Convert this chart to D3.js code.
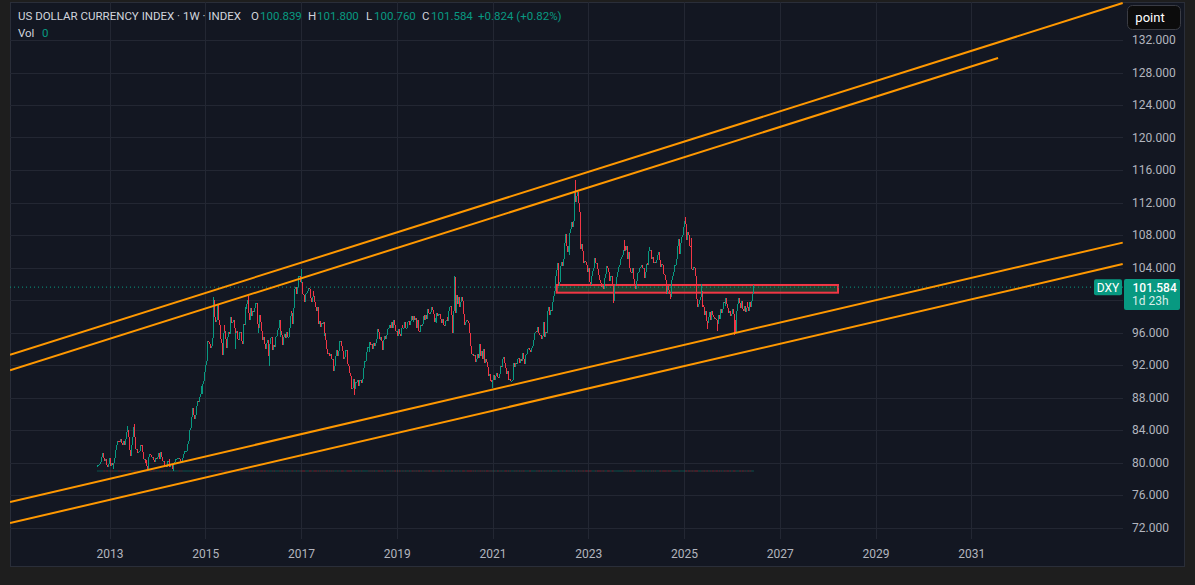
<!DOCTYPE html>
<html>
<head>
<meta charset="utf-8">
<script src="https://cdn.jsdelivr.net/npm/d3@7"></script>
<style>
  body { margin: 0; background: #1e1e1e; }
  svg { display: block; font-family: Roboto, "Liberation Sans", sans-serif; }
</style>
</head>
<body>
<svg></svg>
<script>
// weekly closes (one value per weekly bar, bars start on Monday)
let closes2012 = [79.7, 79.7, 79.8, 80.1, 80.7, 81.0, 81.2, 80.5, 80.2, 80.4, 79.7, 79.4, 79.8, 80.5]
let closes2013 = [79.6, 79.9, 79.7, 79.2, 80.0, 80.6, 81.6, 82.2, 82.7, 82.6, 82.5, 82.9, 82.4, 82.1, 82.6, 82.5, 82.2, 82.9, 83.7, 84.0, 83.2, 81.6, 80.8, 82.2, 83.1, 84.4, 83.2, 82.7, 81.7, 81.7, 81.2, 81.3, 81.4, 82.2, 82.1, 81.3, 80.4, 80.4, 80.0, 80.3, 79.6, 79.2, 80.7, 81.1, 80.9, 80.7, 80.7, 80.3, 80.1, 80.6, 80.4, 80.6]
let closes2014 = [80.7, 81.2, 80.4, 81.3, 80.7, 80.2, 80.2, 79.7, 79.7, 79.4, 80.2, 80.2, 80.4, 79.5, 79.8, 79.8, 79.2, 79.8, 80.1, 80.4, 80.4, 80.5, 80.6, 80.4, 80.1, 80.2, 80.1, 80.6, 81.0, 81.4, 81.4, 81.4, 82.3, 82.7, 84.0, 84.3, 84.8, 85.6, 86.7, 85.9, 85.3, 85.8, 86.9, 87.6, 87.5, 88.1, 88.4, 89.4, 88.4, 89.7, 90.0, 91.1]
let closes2015 = [92.0, 92.5, 95.0, 94.8, 94.6, 94.1, 94.3, 95.3, 97.6, 100.0, 97.9, 97.3, 97.5, 99.4, 97.5, 96.9, 95.2, 94.7, 93.2, 96.0, 96.9, 96.2, 95.2, 94.1, 95.4, 96.1, 95.8, 97.9, 97.2, 97.3, 97.6, 96.6, 94.0, 95.9, 96.2, 95.2, 95.1, 96.1, 96.1, 94.9, 94.6, 97.1, 96.9, 99.2, 98.9, 99.5, 100.0, 98.4, 97.5, 99.0, 98.0, 98.6]
let closes2016 = [98.5, 99.0, 99.6, 99.6, 97.0, 96.0, 96.6, 98.1, 97.3, 96.2, 95.1, 95.4, 94.6, 94.0, 94.7, 95.1, 93.1, 93.9, 94.6, 95.3, 95.5, 93.9, 94.5, 94.2, 95.5, 95.6, 96.3, 96.6, 97.5, 95.5, 96.2, 95.7, 94.5, 95.5, 95.8, 95.3, 96.1, 95.4, 95.4, 96.6, 98.0, 98.7, 98.4, 97.0, 99.0, 101.3, 101.6, 100.8, 101.6, 103.0, 103.0, 102.2]
let closes2017 = [102.2, 101.2, 100.7, 100.6, 99.8, 100.8, 100.9, 101.1, 101.5, 101.3, 100.3, 99.7, 100.4, 101.1, 100.5, 99.8, 99.1, 98.6, 99.2, 97.1, 97.4, 96.7, 97.2, 97.1, 97.3, 95.6, 96.0, 95.1, 94.0, 93.3, 93.5, 93.1, 93.4, 92.7, 92.8, 91.3, 91.9, 92.2, 93.1, 93.8, 93.1, 93.7, 94.9, 94.9, 94.4, 93.7, 92.8, 93.0, 93.9, 93.9, 93.3, 92.1]
let closes2018 = [91.9, 91.0, 90.6, 89.0, 89.2, 90.3, 89.0, 89.9, 89.9, 90.1, 90.2, 89.4, 90.1, 90.1, 89.8, 90.3, 91.6, 92.5, 92.5, 93.6, 94.2, 94.2, 93.6, 94.8, 94.5, 94.6, 94.0, 94.7, 94.4, 94.7, 95.2, 96.4, 96.1, 95.2, 95.1, 95.4, 94.9, 93.9, 95.1, 95.6, 95.2, 95.7, 96.4, 96.5, 96.9, 96.5, 96.9, 97.3, 96.6, 97.5, 96.9, 96.2, 96.2]
let closes2019 = [95.6, 96.4, 95.8, 95.6, 96.6, 96.9, 96.5, 96.5, 97.3, 96.6, 96.6, 97.3, 97.4, 96.9, 97.4, 98.0, 97.5, 97.3, 98.0, 97.6, 97.8, 96.5, 97.6, 96.2, 96.1, 96.9, 96.8, 97.1, 98.0, 98.1, 97.5, 98.1, 97.7, 98.9, 98.4, 98.3, 98.5, 99.1, 98.8, 98.3, 97.3, 97.8, 97.2, 98.4, 98.0, 98.3, 98.3, 97.7, 97.2, 97.7, 96.9, 96.8]
let closes2020 = [97.4, 97.6, 97.9, 97.4, 98.7, 99.1, 99.3, 98.1, 95.9, 98.7, 102.8, 98.4, 100.6, 99.5, 99.8, 100.4, 99.1, 99.7, 100.4, 99.9, 98.3, 96.9, 97.3, 97.6, 97.4, 97.2, 96.6, 95.9, 94.4, 93.3, 93.4, 93.1, 93.2, 92.4, 92.7, 93.3, 92.9, 94.6, 93.8, 93.1, 93.7, 92.8, 94.0, 92.2, 92.7, 92.4, 91.8, 90.7, 90.9, 90.0, 90.2, 89.9]
let closes2021 = [90.1, 90.8, 90.2, 90.6, 91.0, 90.5, 90.4, 90.9, 91.9, 91.7, 91.9, 92.8, 93.0, 92.2, 91.6, 90.9, 91.3, 90.2, 90.3, 90.0, 90.0, 90.1, 90.6, 92.2, 91.8, 92.2, 92.1, 92.7, 92.9, 92.2, 92.8, 92.5, 93.5, 92.7, 92.1, 92.6, 93.2, 93.3, 94.0, 94.1, 93.9, 93.6, 94.1, 94.3, 95.1, 96.0, 96.1, 96.2, 96.1, 96.7, 96.0, 95.7]
let closes2022 = [95.7, 95.2, 95.6, 97.3, 95.5, 96.1, 96.0, 96.6, 98.7, 99.1, 98.2, 98.8, 98.6, 99.8, 100.5, 101.1, 103.0, 103.7, 104.6, 103.0, 101.7, 102.2, 104.2, 104.7, 104.2, 105.1, 107.0, 108.1, 106.7, 105.9, 106.6, 105.6, 108.2, 108.8, 109.6, 109.0, 109.7, 113.2, 112.1, 112.8, 113.3, 111.9, 110.8, 110.8, 106.3, 106.9, 106.0, 104.5, 104.8, 104.7, 104.3, 103.5]
let closes2023 = [103.9, 102.2, 102.0, 101.9, 103.0, 103.6, 103.9, 105.2, 104.5, 104.6, 103.8, 103.1, 102.5, 102.1, 101.6, 101.8, 101.7, 101.3, 102.7, 103.2, 104.2, 104.0, 103.5, 102.3, 102.9, 102.9, 101.9, 99.9, 101.1, 101.7, 102.0, 102.8, 103.4, 104.1, 104.3, 105.1, 105.3, 105.6, 106.2, 106.0, 106.6, 106.2, 106.6, 105.0, 105.9, 103.9, 103.4, 103.3, 104.0, 102.6, 101.7, 101.3]
let closes2024 = [102.4, 102.4, 103.3, 103.4, 103.9, 104.1, 104.3, 103.9, 103.9, 102.7, 103.4, 104.4, 104.5, 104.3, 106.0, 106.1, 106.1, 105.0, 105.3, 104.5, 104.7, 104.6, 104.9, 105.5, 105.8, 105.9, 104.9, 104.1, 104.4, 104.3, 103.2, 103.1, 102.5, 100.7, 101.7, 101.2, 101.1, 100.7, 100.4, 102.5, 102.9, 103.5, 104.3, 104.3, 105.0, 106.7, 107.5, 105.7, 106.1, 107.0, 107.8, 108.0, 109.0]
let closes2025 = [109.7, 109.3, 107.4, 108.4, 108.0, 106.7, 106.6, 107.6, 103.8, 103.7, 104.1, 104.0, 103.0, 100.1, 99.2, 99.5, 100.0, 100.4, 101.1, 99.1, 99.4, 99.2, 98.2, 98.7, 97.4, 97.2, 97.9, 98.5, 97.6, 98.7, 98.2, 97.9, 97.7, 97.8, 97.7, 97.6, 97.0, 98.2, 97.7, 98.9, 98.4, 98.9, 99.8, 99.6, 99.3, 100.2, 99.5, 99.0, 98.4, 98.6, 98.0, 98.3]
let closes2026 = [98.9, 98.3, 97.6, 96.1, 97.4, 98.6, 99.5, 100.2, 99.6, 99.0, 99.9, 98.9, 98.6, 99.3, 98.5, 99.0, 99.8, 99.2, 98.6, 99.7, 99.1, 99.9, 100.76, 101.584]

let firstOpen = 79.5
let seriesStart = '2012-10-01'
let lastBar = { open: 100.839, high: 101.800, low: 100.760, close: 101.584, change: 0.824, changePct: 0.82 }

// notable weekly extremes (wicks) visible on the chart
let wickHighs = [
  ['2013-05-20', 84.5], ['2013-07-08', 84.75], ['2015-03-09', 100.39], ['2015-11-30', 100.51],
  ['2017-01-02', 103.82], ['2020-03-16', 102.99], ['2022-09-26', 114.78], ['2023-10-02', 107.35],
  ['2024-04-15', 106.52], ['2025-01-13', 110.18], ['2025-05-12', 101.98]
]
let wickLows = [
  ['2014-05-05', 78.91], ['2016-05-02', 91.92], ['2018-02-12', 88.25], ['2021-01-04', 89.21],
  ['2023-07-10', 99.58], ['2024-09-23', 100.16], ['2025-06-30', 96.37], ['2025-09-15', 96.2],
  ['2026-01-19', 95.7]
]

let priceTicks = [72, 76, 80, 84, 88, 92, 96, 100, 104, 108, 112, 116, 120, 124, 128, 132]
let tickYears = [2013, 2015, 2017, 2019, 2021, 2023, 2025, 2027, 2029, 2031]

// drawn trend channels (time, price anchors)
let channelLines = [
  { start: '2010-12-04', startPrice: 93.27, end: '2034-03-02', endPrice: 136.55 },
  { start: '2010-12-04', startPrice: 91.35, end: '2031-07-25', endPrice: 129.78 },
  { start: '2010-12-04', startPrice: 75.14, end: '2034-03-02', endPrice: 107.06 },
  { start: '2010-12-04', startPrice: 72.55, end: '2034-03-02', endPrice: 104.42 }
]
let zone = { start: '2022-05-06', end: '2028-03-21', top: 101.85, bottom: 100.9 }

let width = 1195
let height = 585
let plotLeft = 10
let plotRight = 1123
let plotTop = 2
let plotBottom = 539

let upColor = '#089981'
let downColor = '#f23645'
let parseDate = d3.utcParse('%Y-%m-%d')
let dayKey = d3.utcFormat('%Y-%m-%d')

let svg = d3.select('svg').attr('width', width).attr('height', height)

let xScale = d3.scaleUtc()
  .domain([new Date(Date.UTC(2013, 0, 1)), new Date(Date.UTC(2025, 0, 1))])
  .range([109.5, 684])

let yScale = d3.scaleLinear()
  .domain([72, 132])
  .range([527.5, 40])

let volScale = d3.scaleLinear().domain([0, 1]).range([471, 440])

// build bars
let yearSeries = [
  [2012, closes2012], [2013, closes2013], [2014, closes2014], [2015, closes2015],
  [2016, closes2016], [2017, closes2017], [2018, closes2018], [2019, closes2019],
  [2020, closes2020], [2021, closes2021], [2022, closes2022], [2023, closes2023],
  [2024, closes2024], [2025, closes2025], [2026, closes2026]
]
let bars = []
yearSeries.forEach(([year, closes]) => {
  let first = year === 2012 ? parseDate(seriesStart) : d3.utcMonday.ceil(new Date(Date.UTC(year, 0, 1)))
  closes.forEach((c, i) => {
    bars.push({ date: d3.utcMonday.offset(first, i), close: c })
  })
})
let highMap = new Map(wickHighs)
let lowMap = new Map(wickLows)
bars.forEach((b, i) => {
  b.open = i === 0 ? firstOpen : bars[i - 1].close
  let key = dayKey(b.date)
  b.high = highMap.has(key) ? highMap.get(key) : Math.max(b.open, b.close)
  b.low = lowMap.has(key) ? lowMap.get(key) : Math.min(b.open, b.close)
})
let last = bars[bars.length - 1]
last.open = lastBar.open
last.high = lastBar.high
last.low = lastBar.low

// panel
svg.append('rect')
  .attr('x', 10.5).attr('y', 2.5)
  .attr('width', 1174).attr('height', 564)
  .attr('fill', '#131722')
  .attr('stroke', '#2a2e39')

svg.append('clipPath').attr('id', 'plot-clip')
  .append('rect')
  .attr('x', plotLeft).attr('y', plotTop)
  .attr('width', plotRight - plotLeft).attr('height', plotBottom - plotTop)

// grid
let grid = svg.append('g').attr('stroke', '#232733').attr('shape-rendering', 'crispEdges')
grid.selectAll('.hgrid')
  .data(priceTicks)
  .enter()
  .append('line')
  .attr('x1', plotLeft).attr('x2', plotRight)
  .attr('y1', (d) => Math.round(yScale(d)) + 0.5)
  .attr('y2', (d) => Math.round(yScale(d)) + 0.5)
grid.selectAll('.vgrid')
  .data(tickYears)
  .enter()
  .append('line')
  .attr('y1', plotTop).attr('y2', plotBottom)
  .attr('x1', (d) => Math.round(xScale(new Date(Date.UTC(d, 0, 1)))) + 0.5)
  .attr('x2', (d) => Math.round(xScale(new Date(Date.UTC(d, 0, 1)))) + 0.5)

let plot = svg.append('g').attr('clip-path', 'url(#plot-clip)')

// volume (all zero) along the bars
plot.append('g')
  .selectAll('rect')
  .data(bars)
  .enter()
  .append('rect')
  .attr('x', (d) => xScale(d.date) - 0.5)
  .attr('y', volScale(0) - 0.5)
  .attr('width', 1)
  .attr('height', 1)
  .attr('fill', (d) => d.close >= d.open ? upColor : downColor)
  .attr('opacity', 0.45)

// zone rectangle
plot.append('rect')
  .attr('x', xScale(parseDate(zone.start)))
  .attr('y', yScale(zone.top))
  .attr('width', xScale(parseDate(zone.end)) - xScale(parseDate(zone.start)))
  .attr('height', yScale(zone.bottom) - yScale(zone.top))
  .attr('fill', 'rgba(76, 175, 80, 0.25)')
  .attr('stroke', '#f23645')
  .attr('stroke-width', 2)

// current price line
plot.append('line')
  .attr('x1', plotLeft).attr('x2', plotRight)
  .attr('y1', yScale(lastBar.close)).attr('y2', yScale(lastBar.close))
  .attr('stroke', upColor)
  .attr('stroke-width', 1)
  .attr('stroke-dasharray', '1,3')

// candles: wick + body
let candles = plot.append('g').attr('shape-rendering', 'crispEdges')
candles.selectAll('.wick')
  .data(bars)
  .enter()
  .append('rect')
  .attr('x', (d) => xScale(d.date) - 0.5)
  .attr('y', (d) => yScale(d.high))
  .attr('width', 1)
  .attr('height', (d) => Math.max(1, yScale(d.low) - yScale(d.high)))
  .attr('fill', (d) => d.close >= d.open ? upColor : downColor)
candles.selectAll('.body')
  .data(bars)
  .enter()
  .append('rect')
  .attr('x', (d) => xScale(d.date) - 0.5)
  .attr('y', (d) => yScale(Math.max(d.open, d.close)))
  .attr('width', 1)
  .attr('height', (d) => Math.max(1, Math.abs(yScale(d.open) - yScale(d.close))))
  .attr('fill', (d) => d.close >= d.open ? upColor : downColor)

// trend channel lines
plot.selectAll('.trend')
  .data(channelLines)
  .enter()
  .append('line')
  .attr('x1', (d) => xScale(parseDate(d.start)))
  .attr('y1', (d) => yScale(d.startPrice))
  .attr('x2', (d) => xScale(parseDate(d.end)))
  .attr('y2', (d) => yScale(d.endPrice))
  .attr('stroke', '#ff9800')
  .attr('stroke-width', 2)

// price axis
let priceLabelTop = 279
let priceLabelBottom = 310
let yAxis = d3.axisRight(yScale)
  .tickValues(priceTicks.filter((d) => yScale(d) < priceLabelTop - 4 || yScale(d) > priceLabelBottom + 4))
  .tickFormat(d3.format('.3f'))
  .tickSize(0)
  .tickPadding(0)

svg.append('g')
  .attr('transform', 'translate(1132, 0)')
  .call(yAxis)
  .call((g) => g.select('.domain').remove())
  .selectAll('text')
  .attr('fill', '#b2b5be')
  .style('font-size', '12px')
  .style('font-family', 'Roboto, sans-serif')

// time axis
let xAxis = d3.axisBottom(xScale)
  .tickValues(tickYears.map((y) => new Date(Date.UTC(y, 0, 1))))
  .tickFormat(d3.utcFormat('%Y'))
  .tickSize(0)
  .tickPadding(10)

svg.append('g')
  .attr('transform', 'translate(0, ' + plotBottom + ')')
  .call(xAxis)
  .call((g) => g.select('.domain').remove())
  .selectAll('text')
  .attr('fill', '#b2b5be')
  .style('font-size', '12px')
  .style('font-family', 'Roboto, sans-serif')

// legend
let fmt = d3.format('.3f')
let legend = svg.append('text')
  .attr('y', 19.5)
  .style('font-size', '11.5px')
legend.append('tspan').attr('x', 18).attr('fill', '#d1d4dc').text('US DOLLAR CURRENCY INDEX · 1W · INDEX')
legend.append('tspan').attr('x', 251).attr('fill', '#d1d4dc').text('O')
legend.append('tspan').attr('x', 260).attr('fill', upColor).text(fmt(lastBar.open))
legend.append('tspan').attr('x', 308).attr('fill', '#d1d4dc').text('H')
legend.append('tspan').attr('x', 317).attr('fill', upColor).text(fmt(lastBar.high))
legend.append('tspan').attr('x', 366).attr('fill', '#d1d4dc').text('L')
legend.append('tspan').attr('x', 374).attr('fill', upColor).text(fmt(lastBar.low))
legend.append('tspan').attr('x', 422).attr('fill', '#d1d4dc').text('C')
legend.append('tspan').attr('x', 431).attr('fill', upColor).text(fmt(lastBar.close))
legend.append('tspan').attr('x', 478).attr('fill', upColor)
  .text('+' + fmt(lastBar.change) + ' (+' + lastBar.changePct.toFixed(2) + '%)')

let volText = svg.append('text').attr('y', 36.5).style('font-size', '11.5px')
volText.append('tspan').attr('x', 18).attr('fill', '#d1d4dc').text('Vol')
volText.append('tspan').attr('x', 42).attr('fill', upColor).text('0')

// "point" button
svg.append('rect')
  .attr('x', 1127.5).attr('y', 5.5)
  .attr('width', 53).attr('height', 24)
  .attr('rx', 5)
  .attr('fill', '#0c0c0c')
  .attr('stroke', '#3a3c44')
svg.append('text')
  .attr('x', 1150).attr('y', 21.5)
  .attr('text-anchor', 'middle')
  .attr('fill', '#ffffff')
  .style('font-size', '13px')
  .text('point')

// last price labels
let priceY = yScale(lastBar.close)
svg.append('rect')
  .attr('x', 1094).attr('y', priceY - 8)
  .attr('width', 28).attr('height', 16)
  .attr('rx', 2)
  .attr('fill', upColor)
svg.append('text')
  .attr('x', 1108).attr('y', priceY + 4.5)
  .attr('text-anchor', 'middle')
  .attr('fill', '#ffffff')
  .style('font-size', '12px')
  .text('DXY')

svg.append('rect')
  .attr('x', 1124).attr('y', priceLabelTop)
  .attr('width', 56).attr('height', priceLabelBottom - priceLabelTop)
  .attr('rx', 2)
  .attr('fill', upColor)
svg.append('text')
  .attr('x', 1132.5).attr('y', 292.3)
  .attr('fill', '#ffffff')
  .style('font-size', '12px')
  .style('font-weight', '500')
  .text(fmt(lastBar.close))
svg.append('text')
  .attr('x', 1132).attr('y', 305)
  .attr('fill', 'rgba(255, 255, 255, 0.85)')
  .style('font-size', '12px')
  .text('1d 23h')
</script>
</body>
</html>
